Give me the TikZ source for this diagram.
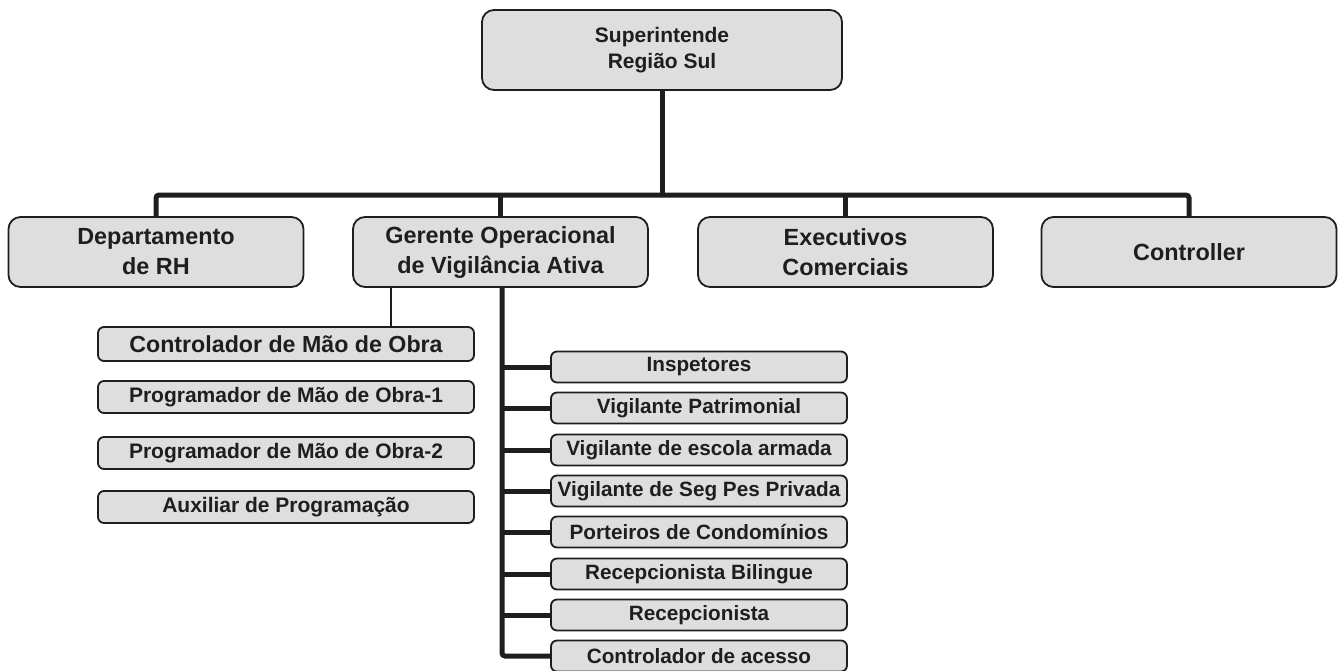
\documentclass[tikz,border=0pt]{standalone}
\usepackage{fontspec}
\setmainfont{Liberation Sans}
\definecolor{boxfill}{RGB}{222,222,222}
\definecolor{ink}{RGB}{30,30,30}
\tikzset{
  orgbox/.style={draw=ink, line width=1.8pt, fill=boxfill, text=ink, rounded corners=12pt,
     align=center, inner sep=0pt, font=\bfseries},
  topbox/.style={orgbox, minimum width=360pt, minimum height=80pt, font=\bfseries\fontsize{21}{26}\selectfont},
  rowbox/.style={orgbox, minimum width=295pt, minimum height=70pt, font=\bfseries\fontsize{23.4}{30}\selectfont},
  leftbox/.style={orgbox, rounded corners=6pt, minimum width=376pt, minimum height=32pt, font=\bfseries\fontsize{21}{24}\selectfont},
  rightbox/.style={orgbox, rounded corners=6pt, minimum width=296pt, minimum height=31pt, font=\bfseries\fontsize{20.7}{24}\selectfont},
  thickline/.style={draw=ink, line width=5pt},
  thinline/.style={draw=ink, line width=1.5pt}
}
\begin{document}
\begin{tikzpicture}[x=1pt,y=-1pt]
\useasboundingbox (0,0) rectangle (1343,670);
% top
\node[topbox] (sup) at (662,50) {Superintende\\Região Sul};
% row
\node[rowbox] (dep) at (156,252) {Departamento\\de RH};
\node[rowbox] (ger) at (500.5,252) {Gerente Operacional\\de Vigilância Ativa};
\node[rowbox] (exe) at (845.5,252) {Executivos\\Comerciais};
\node[rowbox] (ctl) at (1189,252) {Controller};
% left list
\node[leftbox, minimum height=34pt, font=\bfseries\fontsize{23.2}{26}\selectfont] (l1) at (286,344) {Controlador de Mão de Obra};
\node[leftbox] (l2) at (286,397) {Programador de Mão de Obra-1};
\node[leftbox] (l3) at (286,453) {Programador de Mão de Obra-2};
\node[leftbox] (l4) at (286,507) {Auxiliar de Programação};
% right list
\node[rightbox] (r1) at (699,367) {Inspetores};
\node[rightbox] (r2) at (699,408) {Vigilante Patrimonial};
\node[rightbox] (r3) at (699,450) {Vigilante de escola armada};
\node[rightbox] (r4) at (699,491) {Vigilante de Seg Pes Privada};
\node[rightbox] (r5) at (699,532) {Porteiros de Condomínios};
\node[rightbox] (r6) at (699,574) {Recepcionista Bilingue};
\node[rightbox] (r7) at (699,615) {Recepcionista};
\node[rightbox] (r8) at (699,656) {Controlador de acesso};
% connectors
\coordinate (barL) at (156,195);
\coordinate (barR) at (1189,195);
\draw[thickline] (sup.south) -- (sup.south |- barL);
\draw[thickline, rounded corners=3pt] (dep.north) -- (barL) -- (barR) -- (ctl.north);
\draw[thickline] (ger.north) -- (ger.north |- barL);
\draw[thickline] (exe.north) -- (exe.north |- barL);
\coordinate (tp) at (391,287);
\draw[thinline] (tp) -- (tp |- l1.north);
\coordinate (vx) at (502,287);
\draw[thickline, rounded corners=3pt] (vx) -- (vx |- r8.west) -- (r8.west);
\foreach \r in {r1,r2,r3,r4,r5,r6,r7}{
  \draw[thickline] (vx |- \r.west) -- (\r.west);
}
\end{tikzpicture}
\end{document}
